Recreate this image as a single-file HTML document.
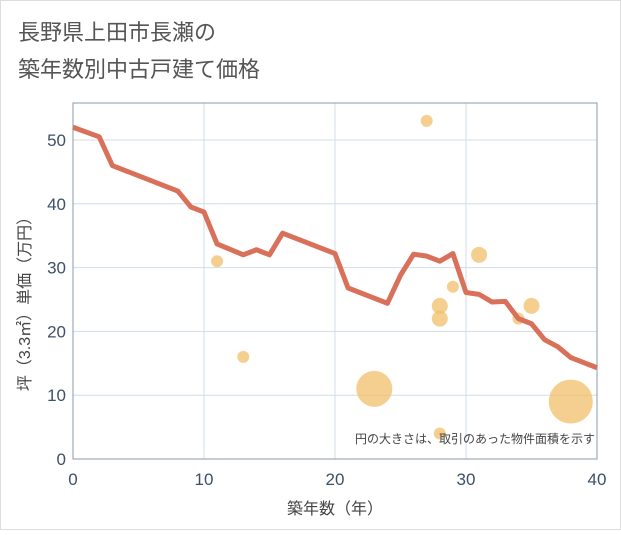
<!DOCTYPE html>
<html><head><meta charset="utf-8"><style>
body{margin:0;background:#fff;font-family:"Liberation Sans","Noto Sans CJK JP",sans-serif}
</style></head><body>
<svg width="621" height="530" xmlns="http://www.w3.org/2000/svg" font-family="Liberation Sans, Noto Sans CJK JP, sans-serif">
<rect x="0.5" y="0.5" width="620" height="529" fill="#fff" stroke="#ddd"/>
<text x="18" y="40" font-size="22" fill="#555">長野県上田市長瀬の</text>
<text x="18" y="77" font-size="22" fill="#555">築年数別中古戸建て価格</text>
<g id="grid"></g>
<rect x="73" y="103" width="524" height="356" fill="none" stroke="#8a9aa8" stroke-width="1"/>
<g id="scatter"></g>
<g id="line"></g>
<g id="ticks"></g>
<text x="595" y="443" font-size="12" fill="#444" text-anchor="end">円の大きさは、取引のあった物件面積を示す</text>
<text x="335" y="514" font-size="16" fill="#444" text-anchor="middle">築年数（年）</text>
<text transform="translate(30,300) rotate(-90)" font-size="16" fill="#444" text-anchor="middle">坪（3.3㎡）単価（万円）</text>
</svg>
<script>
const lineYears=[0,2,3,8,9,10,11,13,14,15,16,20,21,24,25,26,27,28,29,30,31,32,33,34,35,36,37,38,40];
const linePrices=[52,50.5,46,42,39.5,38.7,33.7,32,32.8,32,35.4,32.2,26.8,24.4,28.8,32.1,31.8,31,32.2,26.1,25.8,24.6,24.7,22,21.2,18.7,17.6,15.9,14.3];
const dotYears=[27,11,13,31,28,28,29,34,35,23,28,38];
const dotPrices=[53,31,16,32,24,22,27,22,24,11,4,9];
const dotSizes=[6,6,6,8,8,8,6,6,8,18,6,22];
const xTicks=[0,10,20,30,40];
const yTicks=[0,10,20,30,40,50];
const NS="http://www.w3.org/2000/svg";
const X=v=>73+v*(524/40);
const Y=v=>459-v*6.38;
function mk(t,a,p){const e=document.createElementNS(NS,t);for(const k in a)e.setAttribute(k,a[k]);document.getElementById(p).appendChild(e);return e;}
xTicks.forEach(t=>{
 const l=mk('line',{x1:X(t),x2:X(t),y1:103,y2:459,stroke:'#d0dde8'},'grid');
 
 
 const tx=mk('text',{x:X(t),y:485,'font-size':17,fill:'#3d5066','text-anchor':'middle'},'ticks');tx.textContent=t;
 
 
});
yTicks.forEach(t=>{
 const l=mk('line',{x1:73,x2:597,y1:Y(t),y2:Y(t),stroke:'#d0dde8'},'grid');
 
 
 const tx=mk('text',{x:66,y:Y(t)+6,'font-size':17,fill:'#3d5066','text-anchor':'end'},'ticks');tx.textContent=t;
 
 
});
dotYears.forEach((y,i)=>{
 const c=mk('circle',{cx:X(y),cy:Y(dotPrices[i]),r:dotSizes[i],fill:'#f2bf6a','fill-opacity':0.75},'scatter');
 
 
});
const p=mk('polyline',{points:lineYears.map((y,i)=>X(y)+','+Y(linePrices[i])).join(' '),fill:'none',stroke:'#d9705a','stroke-width':5,'stroke-linejoin':'round'},'line');


</script>
</body></html>
